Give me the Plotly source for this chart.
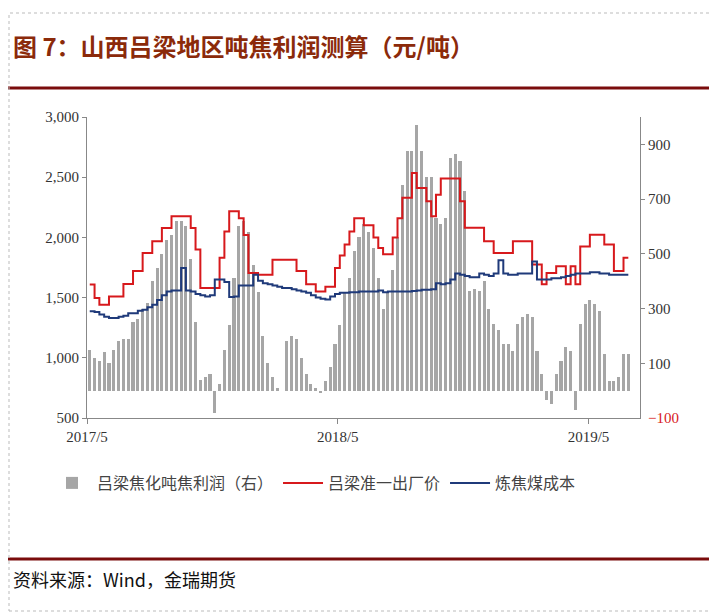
import pandas as pd
import plotly.graph_objects as go

# weekly data, starting 2017-05-05
profit = [150, 120, 110, 140, 100, 150, 180, 190, 190, 250, 260, 300, 320,
          400, 450, 500, 550, 570, 620, 620, 600, 480, 250, 40, 50, 60, -80,
          25, 150, 240, 410, 600, 620, 580, 460, 360, 200, 100, 50, 10, 0,
          180, 200, 190, 120, 60, 25, 10, -10, 35, 85, 170, 240, 360,
          410, 510, 560, 610, 580, 520, 410, 300, 360, 440, 560, 750, 875,
          875, 970, 875, 780, 780, 630, 610, 630, 850, 865, 840, 730,
          365, 370, 365, 400, 300, 245, 220, 170, 170, 145, 245, 270,
          280, 270, 145, 60, -35, -50, 60, 110, 160, 145, -70, 245,
          315, 330, 315, 290, 135, 35, 35, 50, 135, 135]
price = [1608, 1497, 1440, 1440, 1510, 1510, 1510, 1613, 1613, 1720, 1720, 1870, 1870,
         1967, 1967, 2078, 2078, 2175, 2175, 2175, 2175, 2078, 1900, 1580, 1580, 1580, 1580,
         1830, 2050, 2217, 2217, 2160, 2020, 1705, 1705, 1690, 1690, 1690, 1815, 1815, 1815,
         1815, 1815, 1720, 1720, 1610, 1610, 1550, 1550, 1590, 1590, 1745, 1850, 1940,
         2050, 2160, 2160, 2100, 2100, 2000, 1912, 1860, 1860, 2000, 2160, 2330, 2330,
         2535, 2410, 2410, 2300, 2175, 2355, 2490, 2490, 2490, 2490, 2300, 2080,
         2080, 2080, 2080, 1967, 1967, 1870, 1870, 1870, 1870, 1967, 1967, 1967,
         1967, 1775, 1775, 1610, 1705, 1705, 1760, 1760, 1610, 1760, 1610, 1925,
         1925, 2023, 2023, 2023, 1940, 1940, 1720, 1720, 1830, 1830]
cost = [1386, 1380, 1360, 1340, 1330, 1330, 1340, 1350, 1370, 1370, 1390, 1400, 1420,
        1440, 1480, 1520, 1550, 1560, 1560, 1745, 1560, 1550, 1530, 1520, 1510, 1520, 1650,
        1650, 1630, 1505, 1510, 1600, 1600, 1600, 1690, 1640, 1620, 1610, 1600, 1590, 1580,
        1580, 1570, 1560, 1550, 1540, 1520, 1500, 1490, 1485, 1510, 1530, 1540, 1540,
        1545, 1545, 1550, 1550, 1550, 1550, 1560, 1545, 1550, 1550, 1550, 1550, 1550,
        1555, 1560, 1565, 1565, 1570, 1620, 1610, 1620, 1650, 1700, 1690, 1680,
        1670, 1670, 1700, 1690, 1680, 1700, 1810, 1700, 1690, 1690, 1700, 1700,
        1700, 1800, 1650, 1650, 1650, 1660, 1660, 1670, 1680, 1690, 1700, 1700,
        1700, 1710, 1710, 1700, 1700, 1690, 1690, 1690, 1690, 1690]
dates = pd.date_range("2017-05-05", periods=len(profit), freq="7D")

font = "Liberation Serif, Noto Sans CJK SC"


def px(x):
    return (x - 88) / 553


def py(y):
    return (417 - y) / 301


fig = go.Figure()
# bars on the first (right-side) axis so the lines drawn on y2 sit on top
fig.add_trace(go.Bar(x=dates, y=profit, name="吕梁焦化吨焦利润（右）", yaxis="y",
                     marker=dict(color="#a6a6a6", line=dict(width=0)), width=4.5 * 86400000))
fig.add_trace(go.Scatter(x=dates, y=price, name="吕梁准一出厂价", mode="lines", yaxis="y2",
                         line=dict(color="#d7191c", width=2, shape="hv")))
fig.add_trace(go.Scatter(x=dates, y=cost, name="炼焦煤成本", mode="lines", yaxis="y2",
                         line=dict(color="#1f3a7a", width=2, shape="hv")))

fig.update_layout(
    width=717, height=612, paper_bgcolor="white", plot_bgcolor="white",
    margin=dict(l=79, r=85, t=109, b=202),
    font=dict(family=font, size=15, color="#333"),
    bargap=0,
    xaxis=dict(range=["2017-05-01", "2019-07-15"], tickvals=["2017-05-01", "2018-05-01", "2019-05-01"],
               ticktext=["2017/5", "2018/5", "2019/5"], showline=True, linecolor="#888",
               ticks="outside", ticklen=5, tickcolor="#888", showgrid=False),
    yaxis2=dict(range=[500, 3000], tickvals=[500, 1000, 1500, 2000, 2500, 3000], tickformat=",",
                overlaying="y", side="left",
                showline=True, linecolor="#888", ticks="outside", ticklen=4, tickcolor="#888",
                showgrid=False, zeroline=False),
    yaxis=dict(range=[-100, 1000], side="right", tickvals=[100, 300, 500, 700, 900],
               showline=True, linecolor="#888", ticks="outside", ticklen=4, tickcolor="#888",
               showgrid=False, zeroline=False),
    legend=dict(orientation="h", x=px(48), xanchor="left", y=py(482), yanchor="middle",
                font=dict(size=16, family=font, color="#444"), itemwidth=40),
    showlegend=True,
)
fig.add_annotation(text="−100", xref="paper", yref="y", x=1, y=-100, xanchor="left", xshift=6,
                   showarrow=False, font=dict(color="#d7191c", size=15, family=font))
fig.add_annotation(text="<b>图 7：山西吕梁地区吨焦利润测算（元/吨）</b>", xref="paper", yref="paper",
                   x=px(12), y=py(45), xanchor="left", yanchor="middle", showarrow=False,
                   font=dict(color="#8b2a0a", size=24, family="Noto Sans CJK SC"))
fig.add_annotation(text="资料来源：Wind，金瑞期货", xref="paper", yref="paper",
                   x=px(12), y=py(578), xanchor="left", yanchor="middle", showarrow=False,
                   font=dict(color="#111", size=18, family="Noto Sans CJK SC"))
# red rules and dotted frame
for yy in (87, 558):
    fig.add_shape(type="line", xref="paper", yref="paper", x0=px(0), x1=px(717),
                  y0=py(yy), y1=py(yy), line=dict(color="#7a0c0c", width=3))
fig.add_shape(type="rect", xref="paper", yref="paper", x0=px(10), x1=px(715),
              y0=py(610), y1=py(12), line=dict(color="#bbb", width=1, dash="dot"))

fig.write_html("out.html")
